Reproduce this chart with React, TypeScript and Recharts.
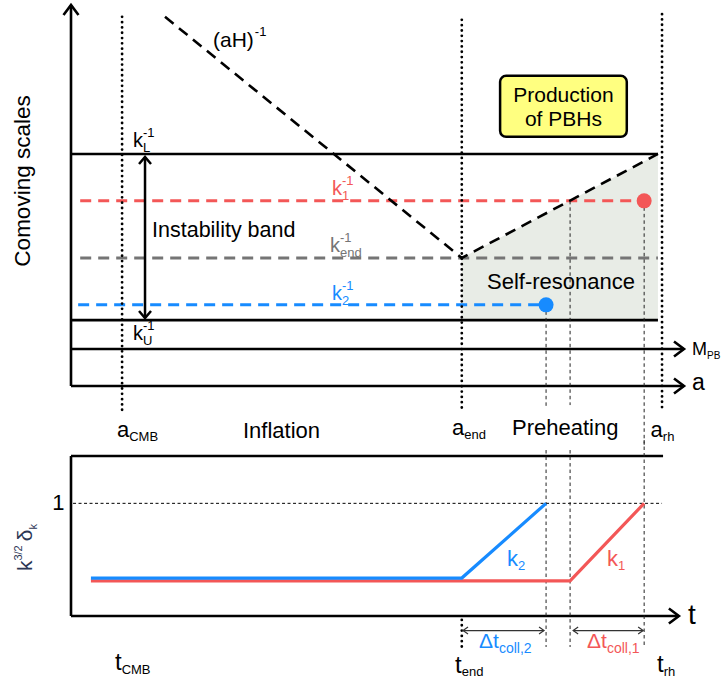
import React from "react";
import {
  Area,
  ComposedChart,
  Line,
  ReferenceArea,
  ReferenceDot,
  ReferenceLine,
  XAxis,
  YAxis,
} from "recharts";

const FONT = "'Liberation Sans', Arial, Helvetica, sans-serif";
const RED = "#f35757";
const BLUE = "#178bff";
const GREY = "#757575";
const NAVY = "#2c3654";
const SHADE = "#e8ece6";

// scale factor / time of the three epochs: CMB, end of inflation, reheating
const epochA = [1.0, 7.65, 11.57];
const epochNames = ["CMB", "end", "rh"];

// comoving scales k^-1 (top panel)
const scaleNames = ["L", "1", "end", "2", "U"];
const scaleValues = [6.09, 4.86, 3.36, 2.13, 1.73];

// comoving Hubble radius (aH)^-1
const hubbleA = [1.84, 7.65, 11.49];
const hubbleS = [9.69, 3.36, 6.09];

// self-resonance region after inflation
const bandA = [7.65, 11.49];
const bandLow = [1.73, 1.73];
const bandHigh = [3.36, 6.09];

// k^{3/2} delta_k for the two modes (bottom panel)
const k2T = [0.39, 7.65, 9.3];
const k2D = [0.337, 0.337, 1];
const k1T = [0.39, 9.77, 11.22];
const k1D = [0.311, 0.311, 1];

// collapse threshold
const threshold = 1;

const kL = scaleValues[0];
const k1 = scaleValues[1];
const kEnd = scaleValues[2];
const k2 = scaleValues[3];
const kU = scaleValues[4];
const [aCMB, aEnd, aRh] = epochA;

const flat = (from: number, to: number, s: number) => [
  { a: from, s },
  { a: to, s },
];
const hubble = hubbleA.map((a, i) => ({ a, s: hubbleS[i] }));
const band = bandA.map((a, i) => ({ a, band: [bandLow[i], bandHigh[i]] }));
const growth2 = k2T.map((a, i) => ({ a, d: k2D[i] }));
const growth1 = k1T.map((a, i) => ({ a, d: k1D[i] }));

type LineStyle = {
  stroke: string;
  width: number;
  dash?: string;
  cap?: "round" | "butt";
  head?: [number, number];
  ends?: "end" | "both";
};

const chevron = (tx: number, ty: number, fx: number, fy: number, len: number, half: number) => {
  const d = Math.hypot(tx - fx, ty - fy) || 1;
  const ux = (tx - fx) / d;
  const uy = (ty - fy) / d;
  const bx = tx - ux * len;
  const by = ty - uy * len;
  return `${bx - uy * half},${by + ux * half} ${tx},${ty} ${bx + uy * half},${by - ux * half}`;
};

const lineShape = (o: LineStyle) => (p: any) => {
  const { x1, y1, x2, y2 } = p;
  return (
    <g>
      <line
        x1={x1}
        y1={y1}
        x2={x2}
        y2={y2}
        stroke={o.stroke}
        strokeWidth={o.width}
        strokeDasharray={o.dash}
        strokeLinecap={o.cap ?? "butt"}
      />
      {o.head && o.ends && (
        <polyline
          points={chevron(x2, y2, x1, y1, o.head[0], o.head[1])}
          fill="none"
          stroke={o.stroke}
          strokeWidth={o.width}
          strokeMiterlimit={10}
        />
      )}
      {o.head && o.ends === "both" && (
        <polyline
          points={chevron(x1, y1, x2, y2, o.head[0], o.head[1])}
          fill="none"
          stroke={o.stroke}
          strokeWidth={o.width}
          strokeMiterlimit={10}
        />
      )}
    </g>
  );
};

const AXIS: LineStyle = { stroke: "#000", width: 2.6, head: [10, 7.5], ends: "end" };
const SOLID: LineStyle = { stroke: "#000", width: 2.6 };
const DOTTED: LineStyle = { stroke: "#000", width: 2.8, dash: "0.01 5.3", cap: "round" };
const THIN: LineStyle = { stroke: "#222", width: 1, dash: "3.5 3" };

const seg = (key: string, a: [number, number], b: [number, number], style: LineStyle) => (
  <ReferenceLine
    key={key}
    segment={[
      { x: a[0], y: a[1] },
      { x: b[0], y: b[1] },
    ]}
    ifOverflow="visible"
    shape={lineShape(style)}
  />
);

type TexProps = {
  base: string;
  sup?: string;
  sub?: string;
  size?: number;
  small?: number;
  color?: string;
  anchor?: "start" | "middle";
  supDx?: number;
  rise?: number;
  drop?: number;
};

const TexText = ({
  cx,
  cy,
  base,
  sup,
  sub,
  size = 21,
  small = 13,
  color = "#000",
  anchor = "start",
  supDx = 0,
  rise,
  drop,
}: TexProps & { cx: number; cy: number }) => {
  const common = {
    x: cx,
    y: cy,
    fontSize: size,
    fontFamily: FONT,
    fill: color,
    textAnchor: anchor,
  };
  return (
    <g>
      <text {...common}>
        {base}
        {sup && (
          <tspan fontSize={small} dx={supDx} dy={-(rise ?? size * 0.5)}>
            {sup}
          </tspan>
        )}
      </text>
      {sub && (
        <text {...common}>
          <tspan fill="none">{base}</tspan>
          <tspan fontSize={small} dy={drop ?? size * 0.24}>
            {sub}
          </tspan>
        </text>
      )}
    </g>
  );
};

const tex = (key: string, x: number, y: number, t: TexProps) => (
  <ReferenceDot
    key={key}
    x={x}
    y={y}
    r={0}
    ifOverflow="visible"
    shape={(p: any) => <TexText cx={p.cx} cy={p.cy} {...t} />}
  />
);

const ComovingChart = () => (
  <ComposedChart
    width={723}
    height={445}
    margin={{ top: 5, right: 39, bottom: 59, left: 71 }}
  >
    <XAxis type="number" dataKey="a" domain={[0, 12]} hide />
    <YAxis type="number" domain={[0, 10]} hide />

    <Area
      data={band}
      dataKey="band"
      type="linear"
      stroke="none"
      fill={SHADE}
      fillOpacity={1}
      isAnimationActive={false}
      activeDot={false}
    />

    <ReferenceArea
      x1={8.4}
      x2={10.88}
      y1={6.54}
      y2={8.14}
      shape={(p: any) => (
        <rect
          x={p.x}
          y={p.y}
          width={p.width}
          height={p.height}
          rx={6}
          fill="#ffff80"
          stroke="#000"
          strokeWidth={2.5}
        />
      )}
    />

    <Line data={flat(0, bandA[1], kL)} dataKey="s" stroke="#000" strokeWidth={2.6} dot={false} activeDot={false} isAnimationActive={false} />
    <Line data={flat(0, bandA[1], kU)} dataKey="s" stroke="#000" strokeWidth={2.6} dot={false} activeDot={false} isAnimationActive={false} />
    <Line data={flat(0.18, bandA[1], kEnd)} dataKey="s" stroke={GREY} strokeWidth={3} strokeDasharray="11 7" dot={false} activeDot={false} isAnimationActive={false} />
    <Line data={flat(0.18, k1T[2], k1)} dataKey="s" stroke={RED} strokeWidth={3} strokeDasharray="11 7" dot={false} activeDot={false} isAnimationActive={false} />
    <Line data={flat(0.14, k2T[2], k2)} dataKey="s" stroke={BLUE} strokeWidth={3} strokeDasharray="11 7" dot={false} activeDot={false} isAnimationActive={false} />
    <Line data={hubble} dataKey="s" type="linear" stroke="#000" strokeWidth={2.6} strokeDasharray="11 7" dot={false} activeDot={false} isAnimationActive={false} />

    {seg("yaxis", [0, 0], [0, 10], AXIS)}
    {seg("aaxis", [0, 0], [12, 0], AXIS)}
    {seg("maxis", [0, 0.97], [12, 0.97], AXIS)}
    {seg("band-arrow", [1.449, 6.01], [1.449, 1.785], { stroke: "#000", width: 2.5, head: [7, 6], ends: "both" })}

    {seg("ep-cmb", [aCMB, 9.69], [aCMB, -0.68], DOTTED)}
    {seg("ep-end", [aEnd, 9.61], [aEnd, -0.63], DOTTED)}
    {seg("ep-rh", [aRh, 9.76], [aRh, -0.58], DOTTED)}

    {seg("c2", [k2T[2], k2], [k2T[2], -0.55], THIN)}
    {seg("o1", [k1T[1], k1], [k1T[1], -0.5], THIN)}
    {seg("c1", [k1T[2], k1], [k1T[2], -1.55], THIN)}

    <ReferenceDot x={k2T[2]} y={k2} r={7.5} fill={BLUE} stroke="none" />
    <ReferenceDot x={k1T[2]} y={k1} r={7.5} fill={RED} stroke="none" />

    {tex("aH", 2.78, 8.9, { base: "(aH)", sup: "-1", supDx: 1, rise: 11 })}
    {tex("kL", 1.214, 6.27, { base: "k", sup: "-1", sub: scaleNames[0], size: 20 })}
    {tex("kU", 1.214, 1.207, { base: "k", sup: "-1", sub: scaleNames[4], size: 20 })}
    {tex("k1", 5.11, 5.01, { base: "k", sup: "-1", sub: scaleNames[1], size: 20, color: RED })}
    {tex("kend", 5.07, 3.517, { base: "k", sup: "-1", sub: scaleNames[2], size: 20, color: GREY })}
    {tex("k2", 5.11, 2.257, { base: "k", sup: "-1", sub: scaleNames[3], size: 20, color: BLUE })}
    {tex("band", 1.586, 3.91, { base: "Instability band", size: 21.5 })}
    {tex("sr", 8.144, 2.546, { base: "Self-resonance", size: 22 })}
    {tex("pbh1", 9.64, 7.454, { base: "Production", size: 21, anchor: "middle" })}
    {tex("pbh2", 9.64, 6.824, { base: "of PBHs", size: 21, anchor: "middle" })}
    {tex("mpb", 12.157, 0.814, { base: "M", sub: "PB", size: 18, small: 10, drop: 4 })}
    {tex("a", 12.157, -0.105, { base: "a", size: 23 })}
    {tex("acmb", 0.9, -1.339, { base: "a", sub: epochNames[0], size: 22, drop: 4 })}
    {tex("infl", 3.367, -1.365, { base: "Inflation", size: 22 })}
    {tex("aend", 7.459, -1.286, { base: "a", sub: epochNames[1], size: 22, drop: 4 })}
    {tex("pre", 8.633, -1.286, { base: "Preheating", size: 22 })}
    {tex("arh", 11.346, -1.339, { base: "a", sub: epochNames[2], size: 22, drop: 4 })}
    <ReferenceDot
      x={-0.803}
      y={5.381}
      r={0}
      ifOverflow="visible"
      shape={(p: any) => (
        <text
          x={p.cx}
          y={p.cy}
          transform={`rotate(-90 ${p.cx} ${p.cy})`}
          textAnchor="middle"
          fontSize={22.5}
          fontFamily={FONT}
          fill="#000"
        >
          Comoving scales
        </text>
      )}
    />
  </ComposedChart>
);

const GrowthChart = () => (
  <ComposedChart
    width={723}
    height={241}
    margin={{ top: 7, right: 39, bottom: 65, left: 71 }}
  >
    <XAxis type="number" dataKey="a" domain={[0, 12]} hide />
    <YAxis type="number" domain={[0, 1.5]} hide />

    {seg("left", [0, 0], [0, 1.42], SOLID)}
    {seg("top", [0, 1.42], [11.59, 1.42], SOLID)}
    {seg("taxis", [0, 0], [11.9, 0], AXIS)}
    {seg("one", [0.04, threshold], [11.57, threshold], { stroke: "#000", width: 1, dash: "3 2.5" })}

    {seg("c2", [k2T[2], 1.473], [k2T[2], -0.275], THIN)}
    {seg("o1", [k1T[1], 1.473], [k1T[1], -0.275], THIN)}
    {seg("c1", [k1T[2], 1.562], [k1T[2], -0.275], THIN)}
    {seg("tend", [aEnd, -0.035], [aEnd, -0.275], DOTTED)}

    {seg("dt2", [7.674, -0.129], [9.26, -0.129], { stroke: "#333", width: 1.2, head: [5, 3.5], ends: "both" })}
    {seg("dt1", [9.83, -0.129], [11.2, -0.129], { stroke: "#333", width: 1.2, head: [5, 3.5], ends: "both" })}

    <Line data={growth1} dataKey="d" type="linear" stroke={RED} strokeWidth={3.2} dot={false} activeDot={false} isAnimationActive={false} />
    <Line data={growth2} dataKey="d" type="linear" stroke={BLUE} strokeWidth={3.2} dot={false} activeDot={false} isAnimationActive={false} />

    {tex("one-label", -0.245, 0.941, { base: "1", size: 22, anchor: "middle" })}
    {tex("k2", 8.536, 0.444, { base: "k", sub: "2", size: 22, color: BLUE, drop: 4 })}
    {tex("k1", 10.493, 0.444, { base: "k", sub: "1", size: 22, color: RED, drop: 4 })}
    {tex("t", 12.079, -0.071, { base: "t", size: 28 })}
    {tex("dt2-label", 7.987, -0.284, { base: "\u0394t", sub: "coll,2", size: 21, small: 14, color: BLUE, drop: 5 })}
    {tex("dt1-label", 10.102, -0.284, { base: "\u0394t", sub: "coll,1", size: 21, small: 14, color: RED, drop: 5 })}
    {tex("tcmb", 0.861, -0.479, { base: "t", sub: epochNames[0], size: 24, drop: 4 })}
    {tex("tend-label", 7.518, -0.506, { base: "t", sub: epochNames[1], size: 24, drop: 3 })}
    {tex("trh", 11.472, -0.497, { base: "t", sub: epochNames[2], size: 24, drop: 4 })}
    <ReferenceDot
      x={-0.764}
      y={0.399}
      r={0}
      ifOverflow="visible"
      shape={(p: any) => (
        <text
          x={p.cx}
          y={p.cy}
          transform={`rotate(-90 ${p.cx} ${p.cy})`}
          fontSize={21}
          fontFamily={FONT}
          fill={NAVY}
        >
          k
          <tspan fontSize={11} dy={-10}>
            3/2
          </tspan>
          <tspan dx={4} dy={10}>
            {"\u03b4"}
          </tspan>
          <tspan fontSize={11} dy={5}>
            k
          </tspan>
        </text>
      )}
    />
  </ComposedChart>
);

export default function App() {
  return (
    <div
      style={{
        position: "absolute",
        left: 0,
        top: 0,
        width: 723,
        height: 681,
        background: "#fff",
        overflow: "hidden",
      }}
    >
      <div style={{ position: "absolute", left: 0, top: 0 }}>
        <ComovingChart />
      </div>
      <div style={{ position: "absolute", left: 0, top: 440 }}>
        <GrowthChart />
      </div>
    </div>
  );
}
